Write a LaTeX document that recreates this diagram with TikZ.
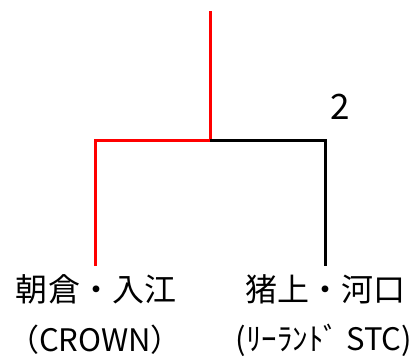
\documentclass[tikz,border=0pt]{standalone}
\usepackage{fontspec}
\setmainfont{Noto Sans CJK JP}
\begin{document}
\begin{tikzpicture}[x=1pt,y=-1pt,
  bline/.style={line width=3pt,line join=miter},
  lbl/.style={inner sep=0pt,font=\fontsize{32}{38}\selectfont},
  lbl2/.style={inner sep=0pt,font=\fontsize{31}{36}\selectfont}]
\useasboundingbox (0,0) rectangle (419,362);
\coordinate (top) at (210,11);
\coordinate (mid) at (210,140);
\coordinate (L) at (95,140);
\coordinate (R) at (325,140);
\coordinate (Lb) at (95,266);
\coordinate (Rb) at (325,266);
\draw[bline,red] (top) -- (mid);
\draw[bline,red] (Lb) -- (L) -- (mid);
\draw[bline,black] (mid) -- (R) -- (Rb);
\node[inner sep=0pt,font=\fontsize{35}{40}\selectfont] (score) at (340,107) {2};
\node[lbl] (nameA) at (96,289) {朝倉・入江};
\node[lbl2] (clubA) at (95,340) {（CROWN）};
\node[lbl] (nameB) at (325,289) {猪上・河口};
\node[lbl2] (clubB) at (324,340) {(ﾘｰﾗﾝﾄﾞ STC)};
\end{tikzpicture}
\end{document}
